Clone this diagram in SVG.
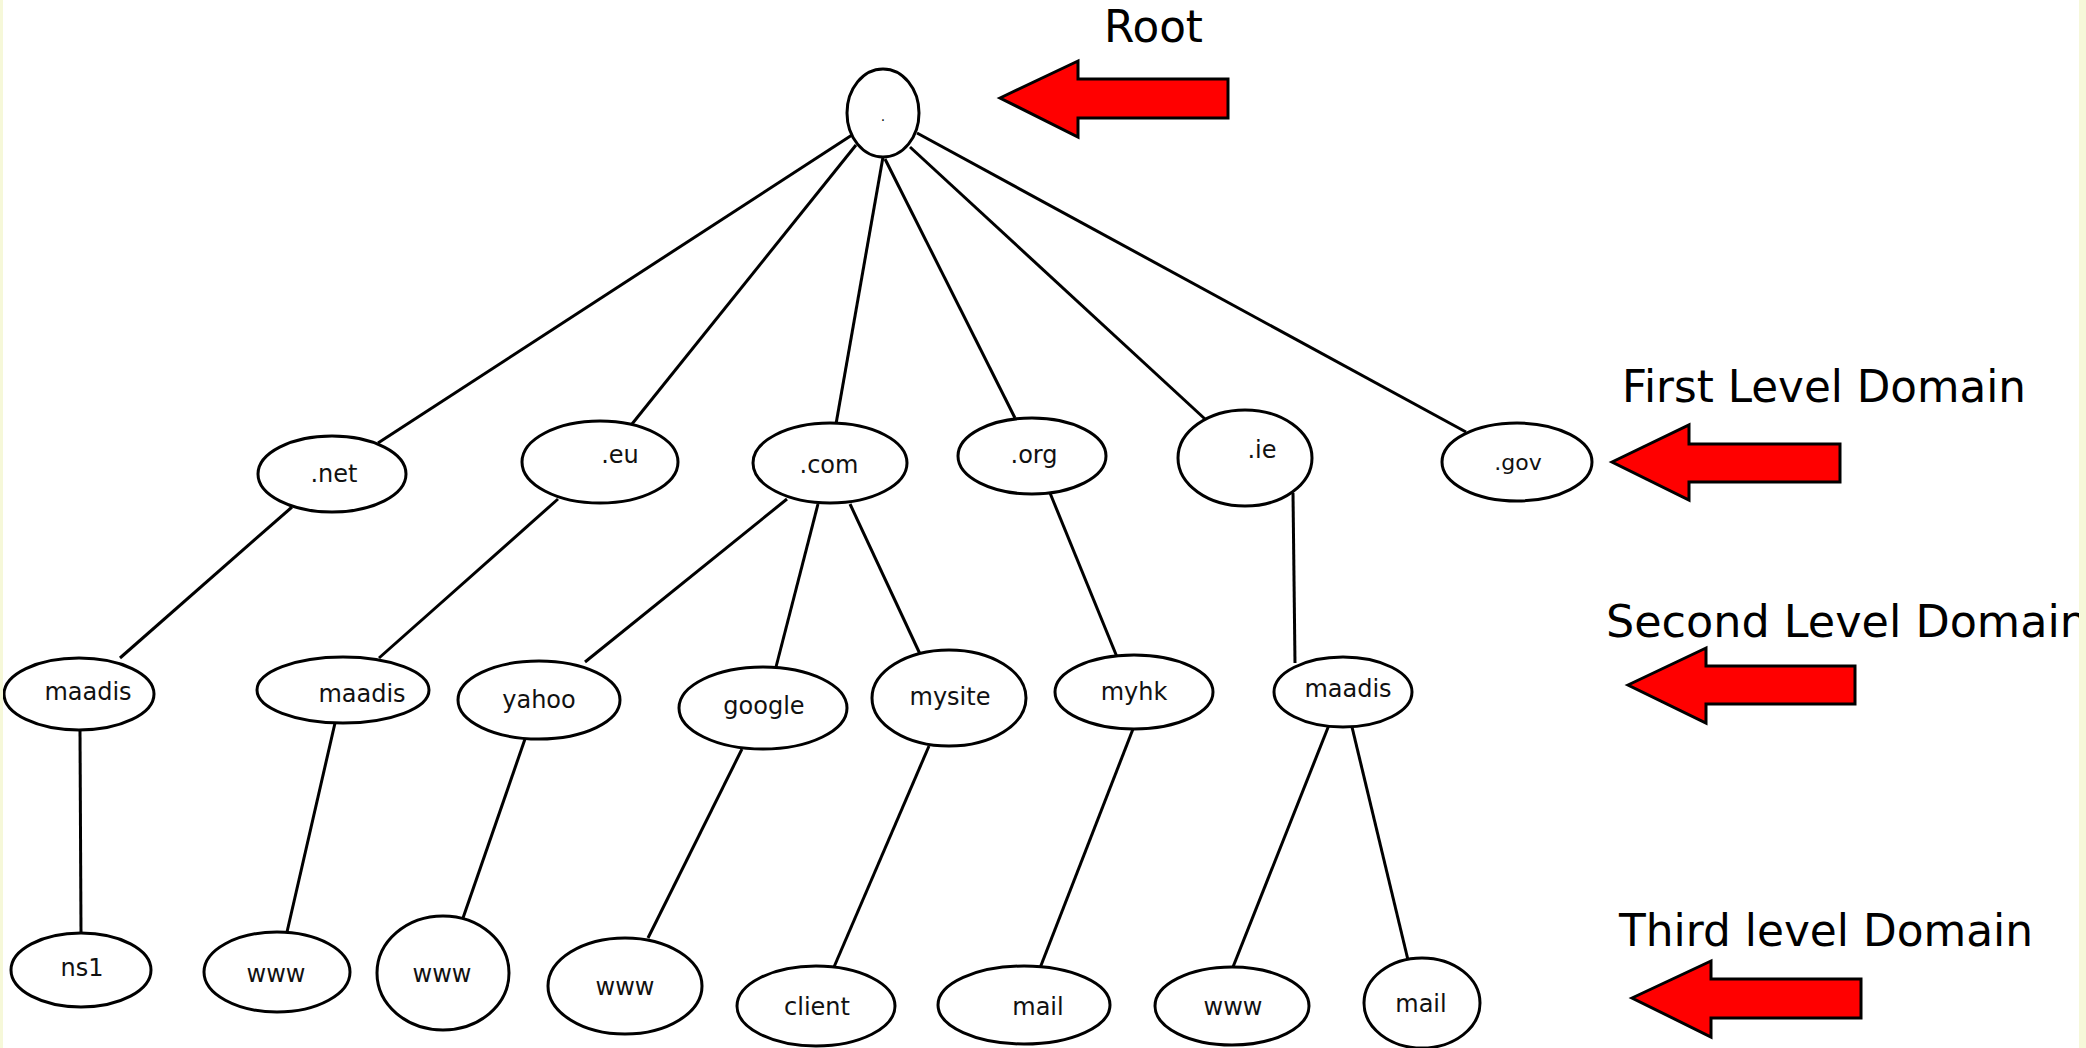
<svg xmlns="http://www.w3.org/2000/svg" width="2086" height="1048" viewBox="0 0 2086 1048">
<style>
.node ellipse{fill:#fff;stroke:#000;stroke-width:3}
.node text{font-family:"DejaVu Sans",sans-serif;font-size:24px;fill:#111;text-anchor:middle}
#connectors line{stroke:#000;stroke-width:3}
.arrow{fill:#f00;stroke:#000;stroke-width:3;stroke-linejoin:miter}
.level{font-family:"DejaVu Sans",sans-serif;font-size:44px;fill:#000}
</style>
<rect x="0" y="0" width="2086" height="1048" fill="#fff"/>
<g id="connectors">
<line x1="852" y1="135" x2="378" y2="443"/>
<line x1="856" y1="145" x2="632" y2="424"/>
<line x1="883" y1="157" x2="836" y2="424"/>
<line x1="885" y1="159" x2="1015" y2="418"/>
<line x1="910" y1="147" x2="1205" y2="419"/>
<line x1="917" y1="133" x2="1466" y2="432"/>
<line x1="292" y1="507" x2="120" y2="658"/>
<line x1="558" y1="499" x2="379" y2="658"/>
<line x1="787" y1="499" x2="585" y2="662"/>
<line x1="818" y1="504" x2="776" y2="667"/>
<line x1="850" y1="504" x2="920" y2="654"/>
<line x1="1050" y1="493" x2="1117" y2="657"/>
<line x1="1293" y1="493" x2="1295" y2="663"/>
<line x1="80" y1="730" x2="81" y2="933"/>
<line x1="335" y1="723" x2="287" y2="932"/>
<line x1="525" y1="739" x2="463" y2="918"/>
<line x1="742" y1="749" x2="648" y2="938"/>
<line x1="929" y1="746" x2="834" y2="967"/>
<line x1="1133" y1="729" x2="1040" y2="968"/>
<line x1="1329" y1="725" x2="1233" y2="967"/>
<line x1="1352" y1="727" x2="1408" y2="960"/>
</g>
<g id="root" class="node"><ellipse cx="883" cy="113" rx="36" ry="44"/><text x="883" y="121" style="font-size:14px">.</text></g>
<g id="net" class="node"><ellipse cx="332" cy="474" rx="74" ry="38"/><text x="334" y="482">.net</text></g>
<g id="eu" class="node"><ellipse cx="600" cy="462" rx="78" ry="41"/><text x="620" y="463">.eu</text></g>
<g id="com" class="node"><ellipse cx="830" cy="463" rx="77" ry="40"/><text x="829" y="473">.com</text></g>
<g id="org" class="node"><ellipse cx="1032" cy="456" rx="74" ry="38"/><text x="1034" y="463">.org</text></g>
<g id="ie" class="node"><ellipse cx="1245" cy="458" rx="67" ry="48"/><text x="1262" y="458">.ie</text></g>
<g id="gov" class="node"><ellipse cx="1517" cy="462" rx="75" ry="39"/><text x="1518" y="470" style="font-size:22px">.gov</text></g>
<g id="maadis-net" class="node"><ellipse cx="79" cy="694" rx="75" ry="36"/><text x="88" y="700">maadis</text></g>
<g id="maadis-eu" class="node"><ellipse cx="343" cy="690" rx="86" ry="33"/><text x="362" y="702">maadis</text></g>
<g id="yahoo" class="node"><ellipse cx="539" cy="700" rx="81" ry="39"/><text x="539" y="708">yahoo</text></g>
<g id="google" class="node"><ellipse cx="763" cy="708" rx="84" ry="41"/><text x="764" y="714">google</text></g>
<g id="mysite" class="node"><ellipse cx="949" cy="698" rx="77" ry="48"/><text x="950" y="705">mysite</text></g>
<g id="myhk" class="node"><ellipse cx="1134" cy="692" rx="79" ry="37"/><text x="1134" y="700">myhk</text></g>
<g id="maadis-ie" class="node"><ellipse cx="1343" cy="692" rx="69" ry="35"/><text x="1348" y="697">maadis</text></g>
<g id="ns1" class="node"><ellipse cx="81" cy="970" rx="70" ry="37"/><text x="82" y="976">ns1</text></g>
<g id="www-maadis" class="node"><ellipse cx="277" cy="972" rx="73" ry="40"/><text x="276" y="982">www</text></g>
<g id="www-yahoo" class="node"><ellipse cx="443" cy="973" rx="66" ry="57"/><text x="442" y="982">www</text></g>
<g id="www-google" class="node"><ellipse cx="625" cy="986" rx="77" ry="48"/><text x="625" y="995">www</text></g>
<g id="client" class="node"><ellipse cx="816" cy="1006" rx="79" ry="40"/><text x="817" y="1015">client</text></g>
<g id="mail-myhk" class="node"><ellipse cx="1024" cy="1005" rx="86" ry="39"/><text x="1038" y="1015">mail</text></g>
<g id="www-ie" class="node"><ellipse cx="1232" cy="1006" rx="77" ry="39"/><text x="1233" y="1015">www</text></g>
<g id="mail-ie" class="node"><ellipse cx="1422" cy="1003" rx="58" ry="45"/><text x="1421" y="1012">mail</text></g>
<g id="legend">
<text class="level" x="1104" y="42" textLength="99" lengthAdjust="spacingAndGlyphs">Root</text>
<polygon class="arrow" points="1000,98 1078,61 1078,79 1228,79 1228,118 1078,118 1078,137"/>
<text class="level" x="1622" y="402" textLength="404" lengthAdjust="spacingAndGlyphs">First Level Domain</text>
<polygon class="arrow" points="1612,462 1689,425 1689,444 1840,444 1840,482 1689,482 1689,500"/>
<text class="level" x="1606" y="637" textLength="482" lengthAdjust="spacingAndGlyphs">Second Level Domain</text>
<polygon class="arrow" points="1628,685 1706,648 1706,666 1855,666 1855,704 1706,704 1706,723"/>
<text class="level" x="1619" y="946" textLength="414" lengthAdjust="spacingAndGlyphs">Third level Domain</text>
<polygon class="arrow" points="1632,998 1711,961 1711,979 1861,979 1861,1018 1711,1018 1711,1037"/>
</g>
<rect x="0" y="0" width="3" height="1048" fill="#f6f8d9"/>
<rect x="2079" y="0" width="7" height="1048" fill="#f6f8d9"/>
</svg>
